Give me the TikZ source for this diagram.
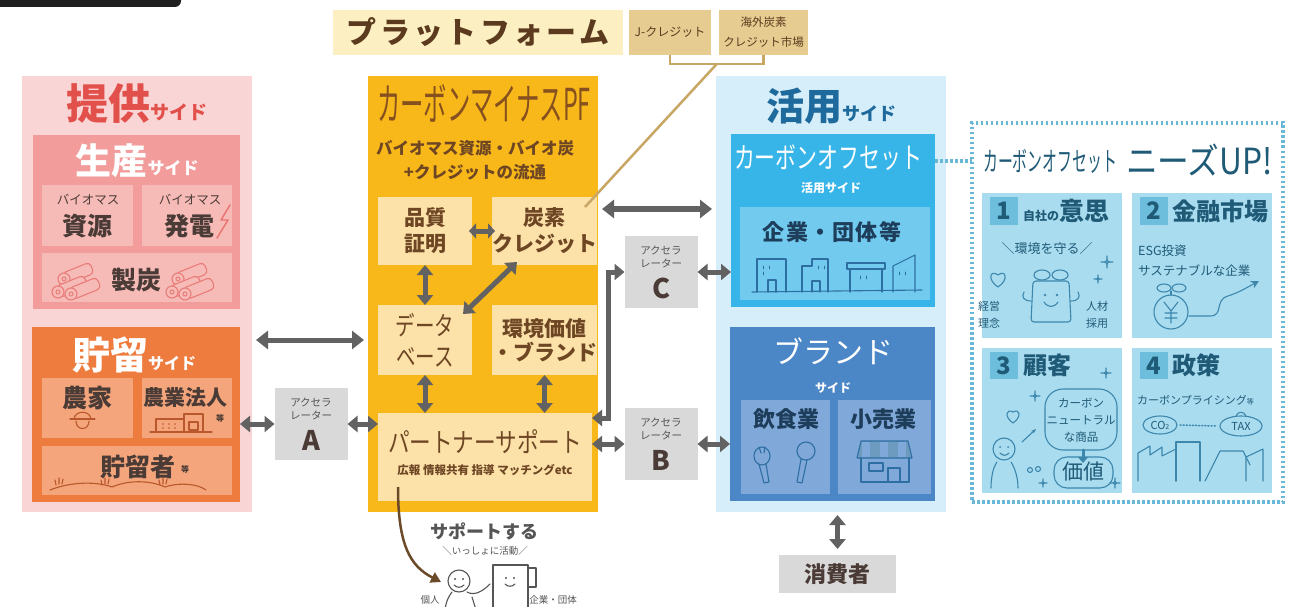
\documentclass[tikz,border=0pt]{standalone}
\usepackage{fontspec}
\setmainfont{Noto Sans CJK JP}
\usepackage{graphicx}
\usepackage{tikz}
\usetikzlibrary{positioning}
\usetikzlibrary{arrows.meta}
\usetikzlibrary{calc}

\definecolor{givebg}{HTML}{FAD5D5}
\definecolor{givered}{HTML}{E2504B}
\definecolor{prodbg}{HTML}{F29D9B}
\definecolor{prodsub}{HTML}{F6BAB7}
\definecolor{storebg}{HTML}{EE7C3E}
\definecolor{storesub}{HTML}{F5A57B}
\definecolor{storeline}{HTML}{B9582C}
\definecolor{darktxt}{HTML}{4B3B36}
\definecolor{pfbg}{HTML}{F8B81A}
\definecolor{pfsub}{HTML}{FCE2A8}
\definecolor{pfbrown}{HTML}{6E4624}
\definecolor{pftitle}{HTML}{86501F}
\definecolor{barbg}{HTML}{FCF0C3}
\definecolor{barbrown}{HTML}{5C3A1E}
\definecolor{creditbg}{HTML}{E6CC91}
\definecolor{bracketcol}{HTML}{C8A664}
\definecolor{arrowgray}{HTML}{626262}
\definecolor{accbg}{HTML}{D9D9DA}
\definecolor{inkgray}{HTML}{555555}
\definecolor{usebg}{HTML}{D5EEFA}
\definecolor{usetitle}{HTML}{1F6A9C}
\definecolor{offbg}{HTML}{37B5E8}
\definecolor{offsub}{HTML}{72CBEF}
\definecolor{brandbg}{HTML}{4B86C7}
\definecolor{brandsub}{HTML}{80A8D9}
\definecolor{bluepen}{HTML}{2E6FA3}
\definecolor{navy}{HTML}{1D3D5B}
\definecolor{dotcol}{HTML}{69B8D8}
\definecolor{needbg}{HTML}{A9DCEF}
\definecolor{needbadge}{HTML}{6DBEDD}
\definecolor{needink}{HTML}{1F5A77}
\definecolor{needpen}{HTML}{3D86AC}
\definecolor{supbrown}{HTML}{6B4A2A}

\newcommand\fsz[1]{\fontsize{#1}{#1}\selectfont}
\newcommand\sidetag[1]{{\fsz{#1}サイド}}
\newcommand\narrowtxt[2]{\scalebox{#1}[1]{#2}}

\tikzset{
  box/.style={rectangle, inner sep=0pt, outer sep=0pt},
  lbl/.style={inner sep=0pt, align=center},
  title/.style={lbl, font=\bfseries},
  tinytxt/.style={lbl, text=darktxt, font=\fsz{12.5}},
  subhead/.style={lbl, text=darktxt, font=\fsz{25}\bfseries},
  etc/.style={lbl, text=darktxt, font=\fsz{8}\bfseries},
  pfbox/.style={box, fill=pfsub, align=center, text=pfbrown, font=\fontsize{21}{26}\selectfont\bfseries},
  accel/.style={box, fill=accbg, minimum width=73pt, minimum height=72pt},
  acctxt/.style={lbl, text=inkgray, font=\fontsize{10.5}{13}\selectfont},
  accltr/.style={lbl, text=darktxt, font=\fsz{27}\bfseries},
  dblarrow/.style={draw=arrowgray, line width=5pt,
    {Triangle[length=12pt,width=18pt]}-{Triangle[length=12pt,width=18pt]}},
  shortarrow/.style={draw=arrowgray, line width=5pt,
    {Triangle[length=10pt,width=16pt]}-{Triangle[length=10pt,width=16pt]}},
  tinyarrow/.style={draw=arrowgray, line width=5pt,
    {Triangle[length=7pt,width=15pt]}-{Triangle[length=7pt,width=15pt]}},
  bracket/.style={draw=bracketcol, line width=2.5pt},
  doodle/.style={line width=1.1pt, line cap=round, line join=round},
  blueline/.style={doodle, draw=bluepen},
  needline/.style={doodle, draw=needpen},
  needlbl/.style={lbl, text=needink, font=\fontsize{11.5}{17}\selectfont},
  needhead/.style={lbl, text=needink, font=\bfseries},
  dots/.style={draw=dotcol, line width=4pt, dash pattern=on 2.5pt off 2.5pt},
  supparrow/.style={draw=supbrown, line width=2.5pt, -{Triangle[length=10pt,width=11pt]}}
}

\begin{document}
\begin{tikzpicture}[x=1pt, y=-1pt]
  \useasboundingbox (0,0) rectangle (1302,607);
  \fill[white] (0,0) rectangle (1302,607);
  \fill[black!88, rounded corners=6pt] (-10,-10) rectangle (181,7);

  % provider side
  \node[box, fill=givebg, minimum width=230pt, minimum height=436pt] (give) at (137,294) {};
  \node[title, text=givered] (giveT) at (137,104) {\fsz{42}提供\sidetag{19}};

  \node[box, fill=prodbg, minimum width=207pt, minimum height=174pt] (prod) at (136.5,222) {};
  \node[title, text=white] (prodT) at (137,161) {\fsz{36}生産\sidetag{17}};
  \node[box, fill=prodsub, minimum width=91pt, minimum height=61pt] (res) at (87.5,215.5) {};
  \node[box, fill=prodsub, minimum width=90pt, minimum height=61pt] (gen) at (187,215.5) {};
  \node[box, fill=prodsub, minimum width=190pt, minimum height=49pt] (char) at (137,277.5) {};
  \node[tinytxt] (resS) at (88,200) {バイオマス};
  \node[subhead] (resT) at (87,226) {資源};
  \node[tinytxt] (genS) at (190,200) {バイオマス};
  \node[subhead] (genT) at (189,226) {発電};
  \node[subhead] (charT) at (136,280) {製炭};
  \draw[doodle, draw=givered!80, line width=1.4pt] (230,205) -- (221,220) -- (228,220) -- (217,238);
  % charcoal logs
  \foreach \lx in {0,114}{
    \foreach \ox/\oy in {6/-13, 0/0, 13/2}{
      \begin{scope}[shift={(58+\lx+\ox,292+\oy)}, rotate=22]
        \draw[doodle, draw=givered!75, fill=prodsub, rounded corners=4pt] (0,-6) rectangle (30,6);
        \draw[doodle, draw=givered!75, fill=prodsub] (0,0) circle (6pt);
        \draw[doodle, draw=givered!75] (0,0) circle (2pt);
      \end{scope}
    }
  }

  % storage side
  \node[box, fill=storebg, minimum width=208pt, minimum height=175pt] (store) at (136,414.5) {};
  \node[title, text=white] (storeT) at (134,355) {\fsz{38}貯留\sidetag{16}};
  \node[box, fill=storesub, minimum width=91pt, minimum height=60pt] (farm) at (87.5,408) {};
  \node[box, fill=storesub, minimum width=90pt, minimum height=60pt] (corp) at (187,408) {};
  \node[box, fill=storesub, minimum width=190pt, minimum height=49pt] (keep) at (137,470.5) {};
  \node[subhead] (farmT) at (87,398) {農家};
  \node[subhead, font=\fsz{21}\bfseries] (corpT) at (185,398) {農業法人};
  \node[etc] (corpE) at (220,418) {等};
  \node[subhead] (keepT) at (138,467) {貯留者};
  \node[etc] (keepE) at (185,469) {等};
  \draw[doodle, draw=storeline] (70,419) -- (95,419);
  \draw[doodle, draw=storeline] (74,419) .. controls (75,410) and (90,410) .. (91,419);
  \draw[doodle, draw=storeline] (76,421) .. controls (76,431) and (89,431) .. (89,421);
  \draw[doodle, draw=storeline] (150,432) -- (212,432);
  \draw[doodle, draw=storeline] (156,432) -- (156,419) -- (184,419);
  \draw[doodle, draw=storeline] (184,432) -- (184,414) -- (203,414) -- (203,432);
  \draw[doodle, draw=storeline] (189,422) rectangle (198,430);
  \foreach \wx in {163,169,175}{
    \fill[storeline] (\wx,424) circle (0.9pt);
    \fill[storeline] (\wx,428) circle (0.9pt);
  }
  \draw[doodle, draw=storeline] (50,490) .. controls (70,482) and (95,481) .. (112,487)
    .. controls (128,480) and (150,480) .. (165,487) .. controls (180,482) and (198,484) .. (206,490);
  \foreach \gx in {56,102,160}{
    \draw[doodle, draw=storeline] (\gx,485) -- (\gx-1,480) (\gx+3,484) -- (\gx+3,478) (\gx+6,484) -- (\gx+7,479);
  }

  % accelerators
  \foreach \n/\px/\py in {A/311/424, B/661/444, C/661/272}{
    \node[accel] (acc\n) at (\px,\py) {};
    \node[acctxt] (acc\n t) at ([yshift=-21pt]acc\n.north) {アクセラ\\レーター};
    \node[accltr] (acc\n l) at ([yshift=-52pt]acc\n.north) {\n};
  }

  % platform header
  \node[box, fill=barbg, minimum width=290pt, minimum height=45pt, text=barbrown,
        font=\fsz{30}\bfseries\addfontfeature{LetterSpace=11}] (plat) at (478,32.5) {プラットフォーム};
  \node[box, fill=creditbg, minimum width=82pt, minimum height=45pt, text=barbrown,
        font=\fsz{12}] (jcred) at (670,32.5) {J-クレジット};
  \node[box, fill=creditbg, minimum width=89pt, minimum height=45pt, text=barbrown, align=center,
        font=\fontsize{11.5}{20}\selectfont] (overs) at (763.5,32.5) {海外炭素\\クレジット市場};

  % platform body
  \node[box, fill=pfbg, minimum width=230pt, minimum height=436pt] (pf) at (483,294) {};
  \node[lbl, text=pftitle, font=\fsz{44}] (pfT) at (484,103) {\narrowtxt{0.53}{カーボンマイナスPF}};
  \node[lbl, text=pfbrown, font=\fontsize{16.5}{24}\selectfont\bfseries] (pfS) at (475,160)
    {バイオマス資源・バイオ炭\\+クレジットの流通};
  \node[pfbox, minimum width=94pt, minimum height=68pt] (quality) at (425,231) {品質\\証明};
  \node[pfbox, minimum width=95pt, minimum height=68pt] (credit) at (544.5,231) {炭素\\クレジット};
  \node[pfbox, minimum width=94pt, minimum height=70pt, font=\fontsize{26}{31}\selectfont] (dbase) at (425,340)
    {\narrowtxt{0.75}{データ}\\\narrowtxt{0.75}{ベース}};
  \node[pfbox, minimum width=95pt, minimum height=70pt, font=\fontsize{21}{24}\selectfont\bfseries] (value) at (544.5,340)
    {環境価値\\・ブランド};
  \node[pfbox, minimum width=214pt, minimum height=88pt] (partner) at (485,457) {};
  \node[lbl, text=pfbrown, font=\fsz{27}] (partT) at (485,442) {\narrowtxt{0.8}{パートナーサポート}};
  \node[lbl, text=pfbrown, font=\fsz{11.5}\bfseries] (partS) at (485,470) {広報\ 情報共有\ 指導\ マッチングetc};

  \draw[bracket] (jcred.south) -- ++(0,9) -| (overs.south);
  \coordinate (brk) at ($(jcred.south)!0.5!(overs.south)+(0,9)$);
  \draw[bracket] (brk) -- ([xshift=-12pt,yshift=-10pt]credit.north east);

  \draw[tinyarrow, shorten <=-3pt, shorten >=-3pt] (quality) -- (credit);
  \draw[shortarrow] (quality) -- (dbase);
  \draw[shortarrow] (dbase.south) -- (dbase.south |- partner.north);
  \draw[shortarrow] (value.south) -- (value.south |- partner.north);
  \draw[shortarrow] ([xshift=-9pt,yshift=-9pt]dbase.north east) -- ([xshift=25pt,yshift=3pt]credit.south west);

  % use side
  \node[box, fill=usebg, minimum width=230pt, minimum height=436pt] (use) at (831,294) {};
  \node[title, text=usetitle] (useT) at (831,106) {\fsz{38}活用\sidetag{18}};
  \node[box, fill=offbg, minimum width=204pt, minimum height=173pt] (offset) at (833,220.5) {};
  \node[lbl, text=white, font=\fsz{29}] (offT) at (828,158) {\narrowtxt{0.72}{カーボンオフセット}};
  \node[lbl, text=white, font=\fsz{12}\bfseries] (offS) at (831,188) {活用サイド};
  \node[box, fill=offsub, minimum width=190pt, minimum height=93pt] (firm) at (835,253.5) {};
  \node[lbl, text=navy, font=\fsz{22}\bfseries\addfontfeature{LetterSpace=6}] (firmT) at (832,232) {企業・団体等};
  \draw[blueline] (752,292) -- (922,290);
  \draw[blueline] (757,292) -- (757,259) -- (786,259) -- (786,292);
  \draw[blueline] (768,292) -- (768,280) -- (776,280) -- (776,292);
  \draw[blueline] (802,292) -- (802,266) -- (812,266) -- (812,259) -- (828,259) -- (828,292);
  \draw[blueline] (812,292) -- (812,281) -- (820,281) -- (820,292);
  \draw[blueline] (850,292) -- (850,269) -- (882,269) -- (882,292);
  \draw[blueline] (847,263) rectangle (885,269);
  \draw[blueline] (893,292) -- (893,266) -- (915,255) -- (915,292);
  \foreach \bx/\by in {763/266, 769/266, 763/272, 818/266, 824/266, 860/276, 866/276, 899/272, 905/272}{
    \draw[blueline, line width=0.8pt] (\bx,\by) -- (\bx,\by+3);
  }

  \node[box, fill=brandbg, minimum width=205pt, minimum height=174pt] (brandS) at (832.5,414) {};
  \node[lbl, text=white, font=\fsz{30}] (brandT) at (833,351) {ブランド};
  \node[lbl, text=white, font=\fsz{12}\bfseries] (brandSd) at (833,388) {サイド};
  \node[box, fill=brandsub, minimum width=89pt, minimum height=94pt] (food) at (785.5,447) {};
  \node[box, fill=brandsub, minimum width=93pt, minimum height=94pt] (retail) at (884.5,447) {};
  \node[lbl, text=navy, font=\fsz{22}\bfseries] (foodT) at (786,419) {飲食業};
  \node[lbl, text=navy, font=\fsz{22}\bfseries] (retailT) at (883,419) {小売業};
  \draw[blueline] (762,456) ellipse (8pt and 9pt);
  \draw[blueline] (759,447) -- (761,453) (765,447) -- (764,453);
  \draw[blueline] (759,464) -- (764,483) -- (769,482) -- (766,464);
  \draw[blueline] (806,451) circle (9pt);
  \draw[blueline] (801,459) -- (797,482) -- (802,483) -- (807,460);
  \draw[blueline, fill=bluepen!70] (857,458) -- (861,441) -- (908,441) -- (912,458) -- cycle;
  \foreach \sx in {866,884,902}{
    \fill[brandsub] (\sx-4,442) rectangle (\sx+4,457);
  }
  \draw[blueline] (861,458) -- (861,482) -- (909,482) -- (909,458);
  \draw[blueline] (869,463) rectangle (883,471);
  \draw[blueline] (888,482) -- (888,468) -- (900,468) -- (900,482);

  \node[box, fill=accbg, minimum width=117pt, minimum height=38pt, text=darktxt,
        font=\fsz{22}\bfseries] (consumer) at (837.5,574) {消費者};

  % arrows between the columns
  \draw[dblarrow, shorten <=4pt, shorten >=4pt] (give.east |- dbase) -- (pf.west |- dbase);
  \draw[shortarrow] (store.east |- accA) -- (accA);
  \draw[shortarrow] (accA) -- (partner.west |- accA);
  \draw[dblarrow, shorten <=4pt, shorten >=4pt] ($(pf.east |- credit.north)+(0,12)$) -- ($(use.west |- credit.north)+(0,12)$);
  \draw[shortarrow] ([yshift=-5pt]partner.north east) -- ++(16,0) |- (accC);
  \draw[shortarrow] (accC) -- (offset.west |- accC);
  \draw[shortarrow] (partner.east |- accB) -- (accB);
  \draw[shortarrow] (accB) -- (brandS.west |- accB);
  \draw[shortarrow, shorten <=3pt, shorten >=6pt] (consumer.north |- use.south) -- (consumer.north);

  % needs panel
  \node[box, dots, minimum width=311pt, minimum height=379pt] (needs) at (1127.5,312.5) {};
  \node[lbl, text=needink, font=\fsz{27}, anchor=west] (needT1) at (983,161) {\narrowtxt{0.55}{カーボンオフセット}};
  \node[lbl, text=needink, font=\fsz{36}, anchor=west] (needT2) at (1126,160) {\narrowtxt{0.88}{ニーズUP!}};
  \draw[dots] (offset.east |- needT1) -- (needs.west |- needT1);
  \foreach \n/\px/\py in {1/1052/265.5, 2/1201.5/265.5, 3/1052/420, 4/1201.5/420}{
    \node[box, fill=needbg, minimum width=140pt, minimum height=145pt] (need\n) at (\px,\py) {};
    \node[box, fill=needbadge, minimum width=28pt, minimum height=27pt, text=needink,
          font=\fsz{24}\bfseries] (badge\n) at ([xshift=22pt,yshift=-18pt]need\n.north west) {\n};
  }
  \node[needhead, anchor=west] (head1) at ([xshift=5pt]badge1.east) {\fsz{12}自社の\fsz{25}意思};
  \node[needhead, anchor=west] (head2) at ([xshift=5pt]badge2.east) {\fsz{24}金融市場};
  \node[needhead, anchor=west] (head3) at ([xshift=5pt]badge3.east) {\fsz{24}顧客};
  \node[needhead, anchor=west] (head4) at ([xshift=5pt]badge4.east) {\fsz{24}政策};

  \node[needlbl, font=\fsz{13}] (p1a) at (1047,249) {＼環境を守る／};
  \node[needlbl, font=\fontsize{11}{17}\selectfont] (p1b) at (989,315) {経営\\理念};
  \node[needlbl, font=\fontsize{11}{17}\selectfont] (p1c) at (1097,315) {人材\\採用};
  \node[needlbl, font=\fsz{12.5}, anchor=west] (p2a) at (1138,251) {ESG投資};
  \node[needlbl, font=\fsz{12.5}, anchor=west] (p2b) at (1138,271) {サステナブルな企業};
  \node[needlbl] (p3a) at (1081,420) {カーボン\\ニュートラル\\な商品};
  \node[needlbl, font=\fsz{21}] (p3b) at (1083,472) {価値};
  \node[needlbl, font=\fsz{11}, anchor=west] (p4a) at (1137,400) {カーボンプライシング{\fsz{7}等}};
  \node[needlbl, font=\fsz{11}] (co2) at (1160,425) {CO{\fsz{7}2}};
  \node[needlbl, font=\fsz{11}] (tax) at (1241,426) {TAX};

  % panel 1 doodles
  \draw[needline] (998,287) .. controls (987,280) and (990,269) .. (998,275) .. controls (1006,269) and (1009,280) .. (998,287);
  \draw[needline, rounded corners=3pt] (1033,281) -- (1031,322) -- (1071,322) -- (1069,281) -- cycle;
  \draw[needline] (1042,275) ellipse (8pt and 5pt);
  \draw[needline] (1060,275) ellipse (8pt and 5pt);
  \fill[needpen] (1045,295) circle (1.3pt) (1057,295) circle (1.3pt);
  \draw[needline] (1044,302) .. controls (1048,308) and (1054,308) .. (1058,302);
  \draw[needline] (1031,301) .. controls (1024,301) and (1021,297) .. (1024,292);
  \draw[needline] (1071,301) .. controls (1078,301) and (1081,297) .. (1078,292);
  % panel 2 doodles
  \draw[needline] (1171,312) circle (17pt);
  \draw[needline] (1164,288) ellipse (7pt and 4pt);
  \draw[needline] (1179,288) ellipse (7pt and 4pt);
  \draw[needline] (1171,295) -- (1171,291);
  \draw[needline] (1164,302) -- (1171,311) -- (1178,302) (1171,311) -- (1171,323) (1165,313) -- (1177,313) (1165,318) -- (1177,318);
  \draw[needline, -{Stealth[length=8pt,width=8pt]}] (1189,316) -- (1210,316) .. controls (1224,316) and (1214,300) .. (1228,296)
    .. controls (1240,292) and (1246,288) .. (1259,281);
  % panel 3 doodles
  \draw[needline, rounded corners=18pt] (1045,389) rectangle (1117,450);
  \draw[needline, rounded corners=13pt] (1054,457) rectangle (1113,488);
  \draw[needline, line width=3pt, -{Triangle[length=6pt,width=10pt]}] (1083,450) -- (1083,463);
  \draw[needline] (1004,449) circle (11pt);
  \fill[needpen] (1000,447) circle (1pt) (1008,447) circle (1pt);
  \draw[needline] (1000,453) .. controls (1003,456) and (1006,456) .. (1009,453);
  \draw[needline] (991,488) .. controls (991,475) and (994,466) .. (997,462);
  \draw[needline] (1011,462) .. controls (1015,468) and (1018,478) .. (1018,488);
  \draw[needline, -{Stealth[length=5pt]}] (1022,442) -- (1036,429);
  \draw[needline] (1013,423) .. controls (1004,417) and (1006,408) .. (1013,412) .. controls (1020,408) and (1022,417) .. (1013,423);
  \draw[needline] (1030,470) circle (2.5pt) (1038,469) circle (2.5pt);
  % panel 4 doodles
  \draw[needline] (co2) ellipse (17pt and 9pt);
  \draw[needline] (tax) ellipse (21pt and 10pt);
  \draw[needline] (1236,416) .. controls (1238,411) and (1244,411) .. (1246,416);
  \draw[needline, dotted, line width=1.5pt] ([xshift=20pt]co2.center) -- ([xshift=-24pt]tax.center);
  \draw[needline] (1138,481) -- (1138,453) -- (1150,446) -- (1150,455) -- (1162,447) -- (1162,456) -- (1176,449) -- (1176,481);
  \draw[needline] (1176,481) -- (1176,442) -- (1200,442) -- (1200,481);
  \draw[needline] (1205,481) -- (1220,451) -- (1243,451) -- (1250,465);
  \draw[needline] (1246,481) -- (1246,457) -- (1263,449) -- (1263,481);
  \foreach \sx/\sy/\sr in {1107/262/6, 1098/279/4, 1035/396/5, 1106/373/5, 1115/483/5, 1043/483/4}{
    \draw[needline] (\sx,\sy-\sr) .. controls (\sx,\sy) .. (\sx+\sr,\sy) .. controls (\sx,\sy) .. (\sx,\sy+\sr)
      .. controls (\sx,\sy) .. (\sx-\sr,\sy) .. controls (\sx,\sy) .. (\sx,\sy-\sr);
  }

  % support arrow and figures
  \node[lbl, text=inkgray, font=\fsz{18}\bfseries] (supT) at (484,531) {サポートする};
  \node[lbl, text=inkgray, font=\fsz{9.5}] (supS) at (485,551) {＼いっしょに活動／};
  \node[lbl, text=inkgray, font=\fsz{9.5}] (solo) at (430,600) {個人};
  \node[lbl, text=inkgray, font=\fsz{9.5}] (group) at (553,600) {企業・団体};
  \coordinate (friend) at (441,582);
  \draw[supparrow] ([xshift=20pt,yshift=14pt]partner.south west) .. controls (398,545) and (410,566) .. (friend);
  \draw[doodle, draw=inkgray] (459,581) circle (11pt);
  \fill[inkgray] (455,579) circle (1.1pt) (463,579) circle (1.1pt);
  \draw[doodle, draw=inkgray] (454,585) .. controls (457,588) and (461,588) .. (464,585);
  \draw[doodle, draw=inkgray] (452,592) .. controls (448,597) and (446,602) .. (445,610);
  \draw[doodle, draw=inkgray] (467,592) .. controls (474,596) and (482,592) .. (490,584);
  \draw[doodle, draw=inkgray] (472,597) -- (476,610);
  \draw[doodle, draw=inkgray, fill=white] (493,565) rectangle (528,612);
  \draw[doodle, draw=inkgray, fill=white] (528,568) rectangle (536,587);
  \fill[inkgray] (506,578) circle (1.1pt) (514,578) circle (1.1pt);
  \draw[doodle, draw=inkgray] (505,584) .. controls (508,587) and (512,587) .. (515,584);
\end{tikzpicture}
\end{document}
